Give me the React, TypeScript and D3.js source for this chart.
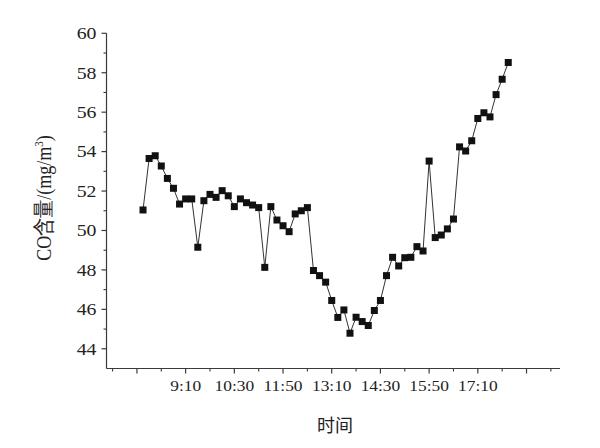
import React from "react";
import * as d3 from "d3";

const times: string[] = [
  "8:00","8:10","8:20","8:30","8:40","8:50",
  "9:00","9:10","9:20","9:30","9:40","9:50",
  "10:00","10:10","10:20","10:30","10:40","10:50",
  "11:00","11:10","11:20","11:30","11:40","11:50",
  "12:00","12:10","12:20","12:30","12:40","12:50",
  "13:00","13:10","13:20","13:30","13:40","13:50",
  "14:00","14:10","14:20","14:30","14:40","14:50",
  "15:00","15:10","15:20","15:30","15:40","15:50",
  "16:00","16:10","16:20","16:30","16:40","16:50",
  "17:00","17:10","17:20","17:30","17:40","17:50",
  "18:00",
];

const coValues: number[] = [
  51.04, 53.65, 53.79, 53.27, 52.64, 52.14,
  51.34, 51.6, 51.6, 49.15, 51.51, 51.83,
  51.68, 52.02, 51.76, 51.21, 51.6, 51.41,
  51.29, 51.16, 48.13, 51.21, 50.53, 50.24,
  49.94, 50.84, 51.0, 51.16, 47.97, 47.71,
  47.38, 46.45, 45.59, 45.97, 44.79, 45.6,
  45.38, 45.18, 45.94, 46.45, 47.71, 48.64,
  48.2, 48.62, 48.64, 49.18, 48.96, 53.52,
  49.64, 49.77, 50.08, 50.58, 54.24, 54.03,
  54.55, 55.68, 55.97, 55.76, 56.89, 57.67,
  58.52,
];

const xLabelTicks: string[] = ["9:10", "10:30", "11:50", "13:10", "14:30", "15:50", "17:10"];
const xMajorUnlabeled: string[] = ["7:50", "18:30"];
const xMinorTicks: string[] = ["7:10", "8:30", "9:50", "11:10", "12:30", "13:50", "15:10", "16:30", "17:50", "19:10"];
const yMajorTicks: number[] = [44, 46, 48, 50, 52, 54, 56, 58, 60];
const yMinorTicks: number[] = [45, 47, 49, 51, 53, 55, 57, 59];
const xDomain: string[] = ["7:00", "19:25"];
const yDomain: number[] = [43, 60];

const yTitleMain = "CO含量/(mg/m";
const yTitleSup = "3";
const xTitle = "时间";

const toMin = (t: string) => {
  const [h, m] = t.split(":").map(Number);
  return h * 60 + m;
};

export default function App() {
  const W = 600, H = 448;
  const x = d3.scaleLinear().domain(xDomain.map(toMin)).range([106.5, 560]);
  const y = d3.scaleLinear().domain(yDomain).range([368.5, 33.3]);
  const x0 = x.range()[0];
  const y0 = y.range()[0];

  const line = d3
    .line<number>()
    .x((_, i) => x(toMin(times[i])))
    .y((d) => y(d));

  const serif = "'Liberation Serif', 'Times New Roman', serif";
  const axisColor = "#3a3a3a";
  const sq = 7;

  return (
    <svg
      width={W}
      height={H}
      style={{ position: "fixed", left: 0, top: 0, background: "#fff" }}
    >
      <rect width={W} height={H} fill="#fff" />
      {/* axes */}
      <line x1={x0} y1={y(60)} x2={x0} y2={y0} stroke={axisColor} strokeWidth={1.2} />
      <line x1={x0} y1={y0} x2={x.range()[1]} y2={y0} stroke={axisColor} strokeWidth={1.2} />

      {/* y ticks */}
      {yMajorTicks.map((v) => (
        <g key={"ym" + v}>
          <line x1={x0 - 5} x2={x0} y1={y(v)} y2={y(v)} stroke={axisColor} strokeWidth={1.2} />
          <text
            transform={`translate(96.5,${y(v) + 5.8}) scale(1.2,1)`}
            textAnchor="end"
            fontFamily={serif}
            fontSize={16.5}
            fill="#222"
          >
            {v}
          </text>
        </g>
      ))}
      {yMinorTicks.map((v) => (
        <line key={"yn" + v} x1={x0 - 3} x2={x0} y1={y(v)} y2={y(v)} stroke={axisColor} strokeWidth={1.1} />
      ))}

      {/* x ticks */}
      {[...xLabelTicks, ...xMajorUnlabeled].map((t) => (
        <line key={"xm" + t} x1={x(toMin(t))} x2={x(toMin(t))} y1={y0} y2={y0 + 5} stroke={axisColor} strokeWidth={1.2} />
      ))}
      {xMinorTicks.map((t) => (
        <line key={"xn" + t} x1={x(toMin(t))} x2={x(toMin(t))} y1={y0} y2={y0 + 3} stroke={axisColor} strokeWidth={1.1} />
      ))}
      {xLabelTicks.map((t) => (
        <text
          key={"xl" + t}
          transform={`translate(${x(toMin(t))},391) scale(1.2,1)`}
          textAnchor="middle"
          fontFamily={serif}
          fontSize={14.5}
          fill="#222"
        >
          {t}
        </text>
      ))}

      {/* titles */}
      <text
        x={335}
        y={432}
        textAnchor="middle"
        fontFamily="'Noto Sans CJK SC', sans-serif"
        fontSize={18}
        fill="#222"
      >
        {xTitle}
      </text>
      <text
        transform={`translate(51,198) rotate(-90) scale(1,1.2)`}
        textAnchor="middle"
        fontFamily={serif}
        fontSize={18}
        fill="#222"
      >
        {yTitleMain}
        <tspan fontSize={11} dy={-7}>{yTitleSup}</tspan>
        <tspan dy={7}>)</tspan>
      </text>

      {/* data */}
      <path d={line(coValues) || ""} fill="none" stroke="#333" strokeWidth={1} />
      {coValues.map((v, i) => (
        <rect
          key={"p" + i}
          x={x(toMin(times[i])) - sq / 2}
          y={y(v) - sq / 2}
          width={sq}
          height={sq}
          fill="#111"
        />
      ))}
    </svg>
  );
}
